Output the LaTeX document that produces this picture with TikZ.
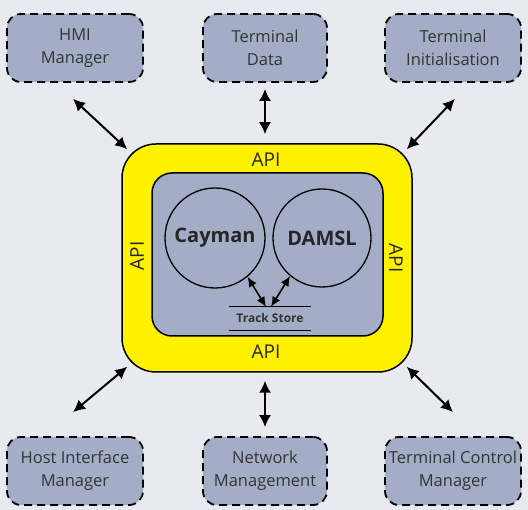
\documentclass[tikz,border=0pt]{standalone}
\usepackage{fontspec}
\setmainfont{Open Sans}
\usepackage{tikz}
\usetikzlibrary{arrows.meta}
\definecolor{bgrey}{RGB}{233,234,240}
\definecolor{boxblue}{RGB}{163,174,198}
\definecolor{apiyellow}{RGB}{255,242,0}
\newcommand{\boxfont}{\fontsize{16.5}{23}\selectfont}
\newcommand{\apifont}{\fontsize{19}{22}\selectfont}

\begin{document}
\begin{tikzpicture}[x=1pt,y=-1pt,
    ext/.style={draw,dashed,dash pattern=on 8pt off 5pt,line width=1.8pt,fill=boxblue,
      rounded corners=14pt,minimum width=136pt,minimum height=68pt,align=center,
      inner sep=2pt,font=\boxfont,text=black!80},
    apibox/.style={draw,line width=1.5pt,fill=apiyellow,rounded corners=34pt,
      minimum width=290pt,minimum height=228pt},
    core/.style={draw,line width=1.5pt,fill=boxblue,rounded corners=20pt,
      minimum width=231pt,minimum height=163pt},
    engine/.style={draw,circle,line width=1.3pt,inner sep=0pt,
      font=\fontsize{20}{24}\selectfont\bfseries,text=black!85},
    apilbl/.style={font=\apifont,text=black!85,inner sep=0pt},
    store/.style={minimum width=81pt,minimum height=23pt,inner sep=0pt,
      font=\fontsize{12}{14}\selectfont\bfseries,text=black!80},
    conn/.style={<->,>={Latex[length=12pt,width=12pt]},line width=2pt},
    link/.style={<->,>={Latex[length=10pt,width=9pt]},line width=1.6pt}]
       \fill[bgrey] (0,0) rectangle (528,510);
       \node[ext] (hmi) at (75,48) {HMI\\Manager};
       \node[ext,minimum width=124pt] (tdata) at (265,48) {Terminal\\Data};
       \node[ext] (tinit) at (453,48) {Terminal\\Initialisation};
       \node[ext] (host) at (75,471) {Host Interface\\Manager};
       \node[ext,minimum width=124pt] (netm) at (265,471) {Network\\Management};
       \node[ext] (tctrl) at (453,471) {Terminal Control\\Manager};
       \node[apibox] (api) at (267,258) {};
       \node[core] (core) at (267.5,254.5) {};
       \node[apilbl] (apin) at (266,160) {API};
       \node[apilbl] (apis) at (266,352) {API};
       \node[apilbl,rotate=90] (apiw) at (137,256) {API};
       \node[apilbl,rotate=-90] (apie) at (396,258) {API};
       \node[engine,minimum size=100pt] (cayman) at (215,238) {Cayman};
       \node[engine,minimum size=98pt] (damsl) at (322,238) {DAMSL};
       \node[store] (store) at (270,318.5) {Track Store};
       \draw[line width=1pt] (store.north west) -- (store.north east);
       \draw[line width=1pt] (store.south west) -- (store.south east);
       \draw[link] (cayman.-50) -- ([xshift=-4pt]store.north);
       \draw[link] (damsl.-130) -- ([xshift=1pt]store.north);
       \draw[conn] ([shift={(-2,16)}]hmi.south) -- ([shift={(6,6)}]api.north west);
       \draw[conn,shorten <=6pt,shorten >=9pt] (tdata) -- (tdata |- api.north);
       \draw[conn] ([shift={(2,16)}]tinit.south) -- ([shift={(-6,6)}]api.north east);
       \draw[conn] ([shift={(-2,-24)}]host.north) -- ([shift={(6,-6)}]api.south west);
       \draw[conn,shorten <=9pt,shorten >=8pt] (netm) -- (netm |- api.south);
       \draw[conn] ([shift={(0,-24)}]tctrl.north) -- ([shift={(-6,-6)}]api.south east);
\end{tikzpicture}
\end{document}
